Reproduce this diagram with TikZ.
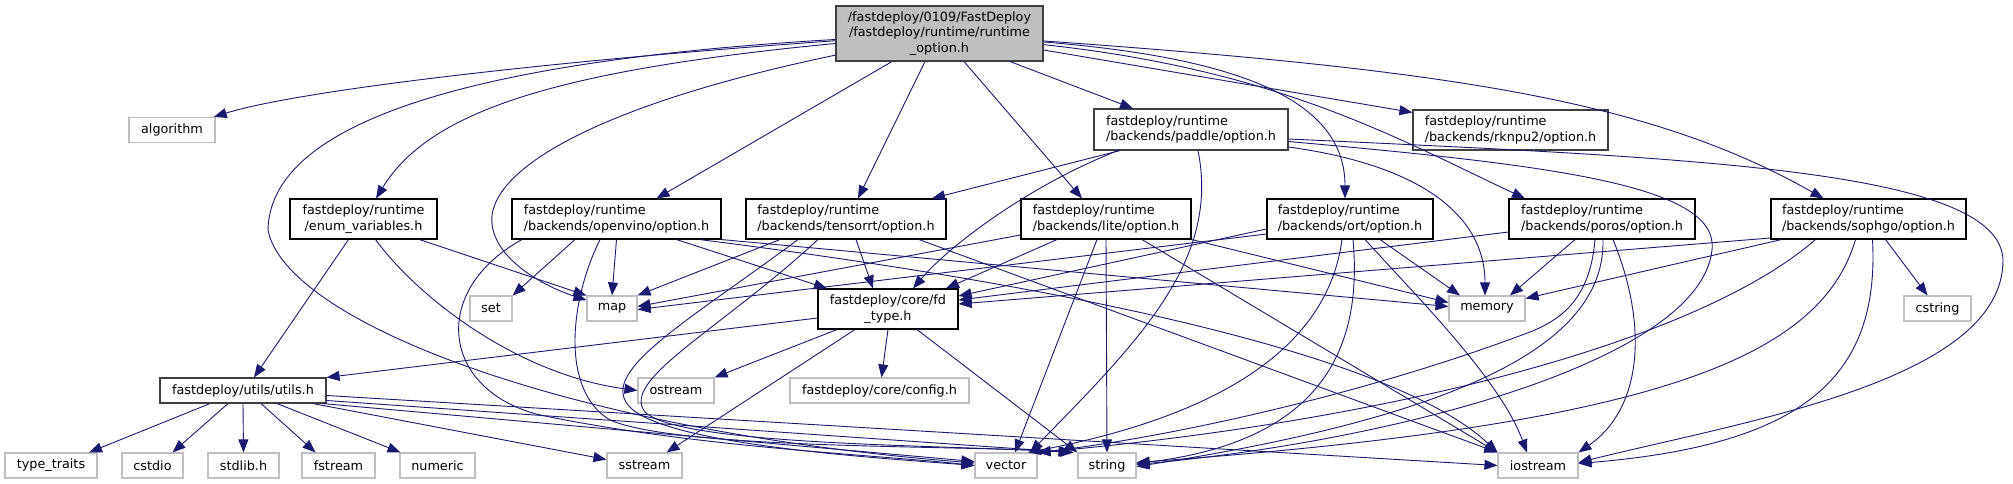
\documentclass[tikz,border=0pt]{standalone}
\usepackage{fontspec}
\newfontfamily\dvsans{DejaVu Sans}
\usetikzlibrary{arrows.meta}
\definecolor{dgEdge}{HTML}{191970}
\definecolor{dgGrey}{HTML}{BFBFBF}
\definecolor{dgDark}{HTML}{404040}

\begin{document}
\begin{tikzpicture}[x=1pt, y=-1pt,
  file/.style={draw=black, fill=white, line width=1.1pt, inner sep=0pt,
    align=left, font=\dvsans\fontsize{12.8}{15.3}\selectfont, minimum height=40pt},
  sysfile/.style={file, draw=dgGrey, minimum height=25pt},
  mainfile/.style={file, fill=dgGrey, draw=dgDark, align=center, minimum height=55pt},
  dep/.style={draw=dgEdge, line width=0.9pt, -{Triangle[length=13pt,width=10pt]}}]
  \useasboundingbox (0,0) rectangle (2013,484);

  % files
  \node[mainfile, minimum width=207pt] (root) at (939.5,33.5)
    {/fastdeploy/0109/FastDeploy\\/fastdeploy/runtime/runtime\\\_option.h};
  \node[sysfile, minimum width=86pt] (algorithm) at (172,130) {algorithm};
  \node[file, draw=dgDark, minimum width=194pt, minimum height=41pt] (paddle) at (1191,129.5)
    {fastdeploy/runtime\\/backends/paddle/option.h};
  \node[file, draw=dgDark, minimum width=195pt] (rknpu2) at (1510.5,130)
    {fastdeploy/runtime\\/backends/rknpu2/option.h};
  \node[file, align=center, minimum width=147pt] (enumvars) at (363.5,219)
    {fastdeploy/runtime\\/enum\_variables.h};
  \node[file, minimum width=209pt] (openvino) at (616.5,219)
    {fastdeploy/runtime\\/backends/openvino/option.h};
  \node[file, minimum width=200pt] (tensorrt) at (846,219)
    {fastdeploy/runtime\\/backends/tensorrt/option.h};
  \node[file, minimum width=170pt] (lite) at (1106,219)
    {fastdeploy/runtime\\/backends/lite/option.h};
  \node[file, minimum width=166pt] (ort) at (1350,219)
    {fastdeploy/runtime\\/backends/ort/option.h};
  \node[file, minimum width=186pt] (poros) at (1602,219)
    {fastdeploy/runtime\\/backends/poros/option.h};
  \node[file, minimum width=195pt] (sophgo) at (1868.5,219)
    {fastdeploy/runtime\\/backends/sophgo/option.h};
  \node[sysfile, minimum width=42pt] (set) at (491,308.5) {set};
  \node[sysfile, minimum width=50pt] (map) at (612,308.5) {map};
  \node[file, align=center, minimum width=140pt] (fdtype) at (888,309)
    {fastdeploy/core/fd\\\_type.h};
  \node[sysfile, minimum width=76pt] (memory) at (1487,308.5) {memory};
  \node[sysfile, minimum width=67pt] (cstring) at (1937.5,308.5) {cstring};
  \node[file, draw=dgDark, minimum width=166pt, minimum height=25pt] (utils) at (243,390.5)
    {fastdeploy/utils/utils.h};
  \node[sysfile, minimum width=76pt] (ostream) at (676,390.5) {ostream};
  \node[sysfile, minimum width=179pt] (config) at (879.5,390.5) {fastdeploy/core/config.h};
  \node[sysfile, minimum width=92pt] (typetraits) at (51,465.5) {type\_traits};
  \node[sysfile, minimum width=61pt] (cstdio) at (152.5,465.5) {cstdio};
  \node[sysfile, minimum width=71pt] (stdlib) at (243.5,465.5) {stdlib.h};
  \node[sysfile, minimum width=73pt] (fstream) at (338.5,465.5) {fstream};
  \node[sysfile, minimum width=75pt] (numeric) at (437.5,465.5) {numeric};
  \node[sysfile, minimum width=75pt] (sstream) at (644.5,465.5) {sstream};
  \node[sysfile, minimum width=62pt] (vector) at (1006,465.5) {vector};
  \node[sysfile, minimum width=58pt] (string) at (1107,465.5) {string};
  \node[sysfile, minimum width=80pt] (iostream) at (1538,465.5) {iostream};

  % runtime_option.h
  \draw[dep] (root) .. controls (560,60) and (300,90) .. (algorithm);
  \draw[dep] (root) .. controls (480,60) and (270,120) .. (268,230)
    .. controls (285,320) and (560,430) .. (vector);
  \draw[dep] (root) .. controls (560,70) and (430,110) .. (enumvars);
  \draw[dep] (root) .. controls (620,100) and (500,160) .. (492,215)
    .. controls (488,255) and (540,285) .. (map);
  \draw[dep] ([xshift=-47.5pt]root.south) -- ([xshift=40pt]openvino.north);
  \draw[dep] ([xshift=-14.5pt]root.south) -- ([xshift=12pt]tensorrt.north);
  \draw[dep] ([xshift=24.5pt]root.south) -- ([xshift=-24pt]lite.north);
  \draw[dep] ([xshift=70.5pt]root.south) -- ([xshift=-58pt]paddle.north);
  \draw[dep] (root) .. controls (1240,58) and (1345,100) .. ([xshift=-5pt]ort.north);
  \draw[dep] ([yshift=-16.5pt]root.east) -- ([yshift=-3pt]rknpu2.north west);
  \draw[dep] (root) .. controls (1280,70) and (1400,140) .. ([xshift=-77pt]poros.north);
  \draw[dep] (root) .. controls (1450,70) and (1650,100) .. ([xshift=-45pt]sophgo.north);

  % paddle
  \draw[dep] ([xshift=-71pt]paddle.south) -- ([xshift=86pt]tensorrt.north);
  \draw[dep] ([xshift=-73pt]paddle.south) .. controls (1030,185) and (950,245) .. ([xshift=25pt]fdtype.north);
  \draw[dep] ([xshift=7pt]paddle.south) .. controls (1220,260) and (1140,340) .. ([xshift=24pt]vector.north);
  \draw[dep] ([yshift=-17.5pt]paddle.east) .. controls (1420,165) and (1485,215) .. ([xshift=-2pt]memory.north);
  \draw[dep] ([yshift=-9.5pt]paddle.east) .. controls (1700,158) and (2000,170) .. (2003,260)
    .. controls (2003,380) and (1750,420) .. ([yshift=3pt]iostream.east);
  \draw[dep] ([yshift=-12pt]paddle.east) .. controls (1550,165) and (1720,185) .. (1712,250)
    .. controls (1700,360) and (1400,440) .. ([yshift=1pt]string.east);

  % tensorrt
  \draw[dep] ([xshift=10pt]tensorrt.south) -- ([xshift=-15pt]fdtype.north);
  \draw[dep] ([xshift=-66pt]tensorrt.south) -- (map.north east);
  \draw[dep] ([xshift=73pt]tensorrt.south) -- (iostream.north west);
  \draw[dep] ([xshift=-48pt]tensorrt.south) .. controls (690,320) and (600,370) .. (628,405)
    .. controls (660,445) and (880,458) .. (vector.west);
  \draw[dep] ([xshift=-28pt]tensorrt.south) .. controls (720,330) and (620,380) .. (645,412)
    .. controls (680,446) and (950,445) .. ([xshift=-4pt]string.north west);

  % openvino
  \draw[dep] ([xshift=-41.5pt]openvino.south) -- (set.north east);
  \draw[dep] (openvino.south) -- (map.north);
  \draw[dep] ([xshift=60pt]openvino.south) -- ([xshift=-61pt]fdtype.north);
  \draw[dep] (openvino.south east) -- ([yshift=2pt]memory.west);
  \draw[dep] ([xshift=-22pt]openvino.south east) .. controls (1100,290) and (1400,360) .. (iostream.north west);
  \draw[dep] ([xshift=-94.5pt]openvino.south) .. controls (430,290) and (440,390) .. (540,415)
    .. controls (700,448) and (880,455) .. (vector.west);
  \draw[dep] ([xshift=-16.5pt]openvino.south) .. controls (570,300) and (560,390) .. (610,420)
    .. controls (680,450) and (960,445) .. ([xshift=-4pt]string.north west);

  % lite
  \draw[dep] ([xshift=-49pt]lite.south) -- ([xshift=58pt]fdtype.north);
  \draw[dep] ([yshift=-16pt]lite.west) -- ([yshift=2pt]map.east);
  \draw[dep] ([xshift=-9pt]lite.south) -- ([xshift=9pt]vector.north);
  \draw[dep] (lite.south) -- (string.north);
  \draw[dep] ([xshift=36pt]lite.south) -- (iostream.north west);
  \draw[dep] (lite.south east) -- ([yshift=6pt]memory.west);

  % ort
  \draw[dep] ([yshift=-10pt]ort.west) -- ([yshift=13pt]fdtype.east);
  \draw[dep] ([yshift=-15pt]ort.west) -- ([yshift=-1pt]map.east);
  \draw[dep] ([xshift=30pt]ort.south) -- ([xshift=-27pt]memory.north);
  \draw[dep] ([xshift=15pt]ort.south) .. controls (1420,300) and (1500,380) .. ([xshift=-11pt]iostream.north);
  \draw[dep] ([xshift=3pt]ort.south) .. controls (1362,340) and (1330,440) .. ([yshift=2pt]string.east);
  \draw[dep] ([xshift=-8pt]ort.south) .. controls (1330,330) and (1250,410) .. ([xshift=22pt]vector.north);

  % poros
  \draw[dep] ([yshift=-13pt]poros.west) -- ([yshift=9pt]fdtype.east);
  \draw[dep] ([xshift=-27pt]poros.south) -- ([xshift=23pt]memory.north);
  \draw[dep] ([xshift=-7pt]poros.south) .. controls (1590,300) and (1560,320) .. (1530,332)
    .. controls (1350,400) and (1150,440) .. (vector.north east);
  \draw[dep] ([xshift=1pt]poros.south) .. controls (1605,330) and (1500,410) .. ([yshift=-1pt]string.east);
  \draw[dep] ([xshift=11pt]poros.south) .. controls (1650,330) and (1640,410) .. (iostream.north east);

  % sophgo
  \draw[dep] ([yshift=-19pt]sophgo.west) -- ([yshift=5pt]fdtype.east);
  \draw[dep] ([xshift=-87pt]sophgo.south) -- ([yshift=10pt]memory.east);
  \draw[dep] ([xshift=-53pt]sophgo.south) .. controls (1700,340) and (1400,420) .. (vector.north east);
  \draw[dep] ([xshift=-13pt]sophgo.south) .. controls (1820,360) and (1650,425) .. ([yshift=3pt]string.east);
  \draw[dep] ([xshift=4pt]sophgo.south) .. controls (1880,380) and (1800,445) .. ([yshift=2pt]iostream.east);
  \draw[dep] ([xshift=17pt]sophgo.south) -- ([xshift=-10pt]cstring.north);

  % enum_variables
  \draw[dep] ([xshift=-15pt]enumvars.south) -- ([xshift=11pt]utils.north);
  \draw[dep] ([xshift=12pt]enumvars.south) .. controls (420,300) and (520,375) .. (ostream.west);
  \draw[dep] ([xshift=56pt]enumvars.south) -- (map.north west);

  % fd_type
  \draw[dep] ([yshift=-9pt]fdtype.west) -- (utils.north east);
  \draw[dep] ([xshift=-51pt]fdtype.south) -- (ostream.north east);
  \draw[dep] ([xshift=-33pt]fdtype.south) -- ([xshift=22pt]sstream.north);
  \draw[dep] (fdtype.south) -- ([xshift=2pt]config.north);
  \draw[dep] ([xshift=29pt]fdtype.south) -- (string.north west);

  % utils
  \draw[dep] ([xshift=-33pt]utils.south) -- ([xshift=38pt]typetraits.north);
  \draw[dep] ([xshift=-15pt]utils.south) -- ([xshift=20pt]cstdio.north);
  \draw[dep] (utils.south) -- (stdlib.north);
  \draw[dep] ([xshift=18pt]utils.south) -- ([xshift=-23pt]fstream.north);
  \draw[dep] ([xshift=34pt]utils.south) -- ([xshift=-37pt]numeric.north);
  \draw[dep] ([xshift=70pt]utils.south) -- ([yshift=6pt]sstream.west);
  \draw[dep] ([yshift=-5pt]utils.east) -- (iostream.west);
  \draw[dep] ([yshift=-10pt]utils.east) -- ([xshift=-6pt]string.north west);
  \draw[dep] ([xshift=-4pt]utils.south east) -- ([yshift=4pt]vector.west);
\end{tikzpicture}
\end{document}
